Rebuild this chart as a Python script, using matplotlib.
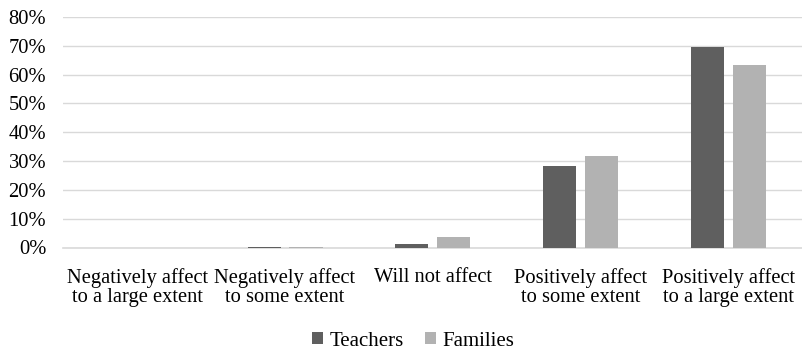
import matplotlib.pyplot as plt
import numpy as np
from matplotlib.ticker import PercentFormatter

plt.rcParams['font.family'] = ['Liberation Serif', 'DejaVu Serif']

categories = ["Negatively affect\nto a large extent", "Negatively affect\nto some extent",
              "Will not affect", "Positively affect\nto some extent",
              "Positively affect\nto a large extent"]
teachers = [0.0, 0.3, 1.1, 28.2, 69.5]
families = [0.0, 0.3, 3.6, 31.7, 63.2]

fig = plt.figure(figsize=(8.02, 3.52), dpi=100)
ax = fig.add_axes([63.5 / 802, 1 - 247.5 / 352, 738.5 / 802, 230.5 / 352])

x = np.arange(len(categories))
w = 0.224
gap = 0.03
ax.bar(x - w / 2 - gap, teachers, w, color="#5f5f5f", label="Teachers", zorder=3)
ax.bar(x + w / 2 + gap, families, w, color="#b2b2b2", label="Families", zorder=3)

ax.set_xlim(-0.5, len(categories) - 0.5)
ax.set_ylim(0, 80)
ax.set_yticks(np.arange(0, 81, 10))
ax.yaxis.set_major_formatter(PercentFormatter(decimals=0))
ax.grid(axis="y", color="#d9d9d9", linewidth=1.0, zorder=0)
for s in ["top", "right", "left"]:
    ax.spines[s].set_visible(False)
ax.spines["bottom"].set_color("#d9d9d9")
ax.spines["bottom"].set_linewidth(1.2)
ax.tick_params(axis="both", length=0, labelsize=14.8, colors="#000000")
ax.tick_params(axis="y", pad=12.5)
ax.tick_params(axis="x", pad=15)
ax.set_xticks(x)
ax.set_xticklabels(categories, linespacing=1.0)

fig.legend(loc="center", bbox_to_anchor=(413 / 802, 1 - 341 / 352), ncol=2, frameon=False,
           fontsize=15, handlelength=0.55, handleheight=0.55, handletextpad=0.3,
           columnspacing=1.0)

fig.savefig("out.png", dpi=100)
